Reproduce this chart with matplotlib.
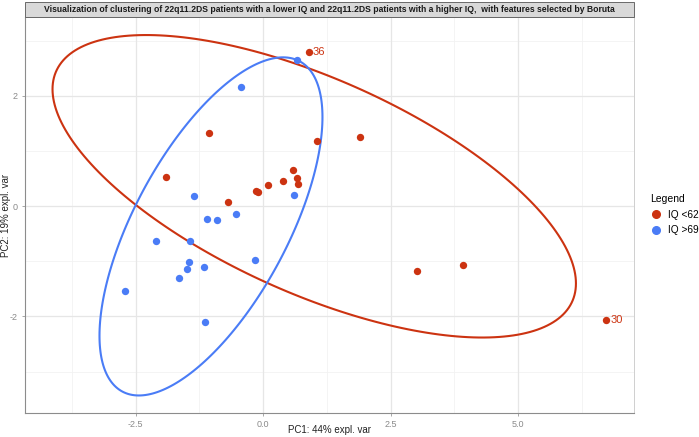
import numpy as np
import matplotlib
matplotlib.use("Agg")
import matplotlib.pyplot as plt
from matplotlib.patches import Rectangle, Polygon
from matplotlib.lines import Line2D

plt.rcParams['font.family'] = ['Liberation Sans', 'DejaVu Sans']

# ---- data (PC scores) ----
low_x = [0.89, 1.05, 1.90, 0.59, 0.67, 0.69, 0.38, 0.10, -0.15, -0.11,
         -1.06, -1.91, -0.69, 3.01, 3.92, 6.73]
low_y = [2.79, 1.18, 1.25, 0.65, 0.51, 0.41, 0.45, 0.39, 0.28, 0.26,
         1.32, 0.52, 0.07, -1.17, -1.07, -2.07]
low_lab = ["36", "", "", "", "", "", "", "", "", "", "", "", "", "", "", "30"]

high_x = [0.67, -0.44, 0.60, -1.36, -1.10, -0.90, -0.54, -2.10, -1.44,
          -1.45, -1.49, -1.65, -1.17, -0.16, -2.71, -1.14]
high_y = [2.65, 2.16, 0.21, 0.18, -0.24, -0.25, -0.14, -0.64, -0.63,
          -1.01, -1.14, -1.31, -1.10, -0.97, -1.54, -2.10]

groups = ["IQ <62", "IQ >69"]
colors = ["#CC3311", "#4A7CF6"]
ellipse_prob = 0.95

x_ticks = [-2.5, 0.0, 2.5, 5.0]
x_ticklabels = ["-2.5", "0.0", "2.5", "5.0"]
y_ticks = [-2, 0, 2]
y_ticklabels = ["-2", "0", "2"]

title = ("Visualization of clustering of 22q11.2DS patients with a lower IQ and "
         "22q11.2DS patients with a higher IQ,  with features selected by Boruta")

W, H = 699, 437
fig = plt.figure(figsize=(W / 100, H / 100), dpi=100)
L, R, T, B = 25, 634, 17, 413
ax = fig.add_axes([L / W, 1 - B / H, (R - L) / W, (B - T) / H])

ax.set_xlim(-4.67, 7.27)
ax.set_ylim(-3.75, 3.43)

# grid
for v in [-3.75, -1.25, 1.25, 3.75, 6.25]:
    ax.axvline(v, color="#F2F2F2", lw=0.6, zorder=0)
for v in [-3, -1, 1, 3]:
    ax.axhline(v, color="#F2F2F2", lw=0.6, zorder=0)
for v in x_ticks:
    ax.axvline(v, color="#E6E6E6", lw=0.9, zorder=0)
for v in y_ticks:
    ax.axhline(v, color="#E6E6E6", lw=0.9, zorder=0)


def ellipse(xs, ys, prob):
    pts = np.column_stack([xs, ys])
    mu = pts.mean(axis=0)
    sigma = np.cov(pts.T)
    ed = np.sqrt(-2 * np.log(1 - prob))
    th = np.linspace(0, 2 * np.pi, 240, endpoint=False)
    circ = np.column_stack([np.cos(th), np.sin(th)])
    U = np.linalg.cholesky(sigma).T
    return circ @ U * ed + mu


for xs, ys, c in [(low_x, low_y, colors[0]), (high_x, high_y, colors[1])]:
    e = ellipse(xs, ys, ellipse_prob)
    ax.add_patch(Polygon(e, closed=True, fill=False, edgecolor=c, lw=1.5,
                         zorder=2, joinstyle="round"))

ax.scatter(low_x, low_y, s=28, color=colors[0], zorder=3, linewidths=0)
ax.scatter(high_x, high_y, s=28, color=colors[1], zorder=3, linewidths=0)

for x, y, t in zip(low_x, low_y, low_lab):
    if t:
        ax.annotate(t, (x, y), xytext=(3, 0), textcoords="offset points",
                    va="center", ha="left", color=colors[0], fontsize=8)

ax.set_xticks(x_ticks)
ax.set_xticklabels(x_ticklabels)
ax.set_yticks(y_ticks)
ax.set_yticklabels(y_ticklabels)
ax.tick_params(axis="both", colors="#9A9A9A", labelcolor="#8A8A8A",
               labelsize=6.5, length=2.5, width=0.6, pad=2.5)
for s in ["left", "bottom"]:
    ax.spines[s].set_color("#8C8C8C")
    ax.spines[s].set_linewidth(0.8)
for s in ["right", "top"]:
    ax.spines[s].set_color("#C8C8C8")
    ax.spines[s].set_linewidth(0.6)

fig.text((L + R) / 2 / W, 1 - 430 / H, "PC1: 44% expl. var", ha="center",
         va="center", fontsize=7, color="#222222")
fig.text(6 / W, 1 - 215 / H, "PC2: 19% expl. var", ha="center", va="center",
         rotation=90, fontsize=7, color="#222222")

# title strip
fig.patches.append(Rectangle((L / W, 1 - T / H), (R - L) / W, 15 / H,
                             transform=fig.transFigure, facecolor="#D9D9D9",
                             edgecolor="#555555", lw=0.6))
fig.text((L + R) / 2 / W, 1 - 9.5 / H, title, ha="center", va="center",
         fontsize=6.25, fontweight="bold", color="#1A1A1A")

# legend
handles = [Line2D([], [], marker="o", ls="", color=c, markersize=5.5) for c in colors]
leg = fig.legend(handles, groups, title="Legend", loc="upper left",
                 bbox_to_anchor=(643 / W, 1 - 187 / H), frameon=False,
                 fontsize=7.3, title_fontsize=7.5, handletextpad=0.6,
                 labelspacing=0.55, handlelength=1.2, borderpad=0.2)
leg._legend_box.align = "left"

fig.savefig("out.png", dpi=100)
